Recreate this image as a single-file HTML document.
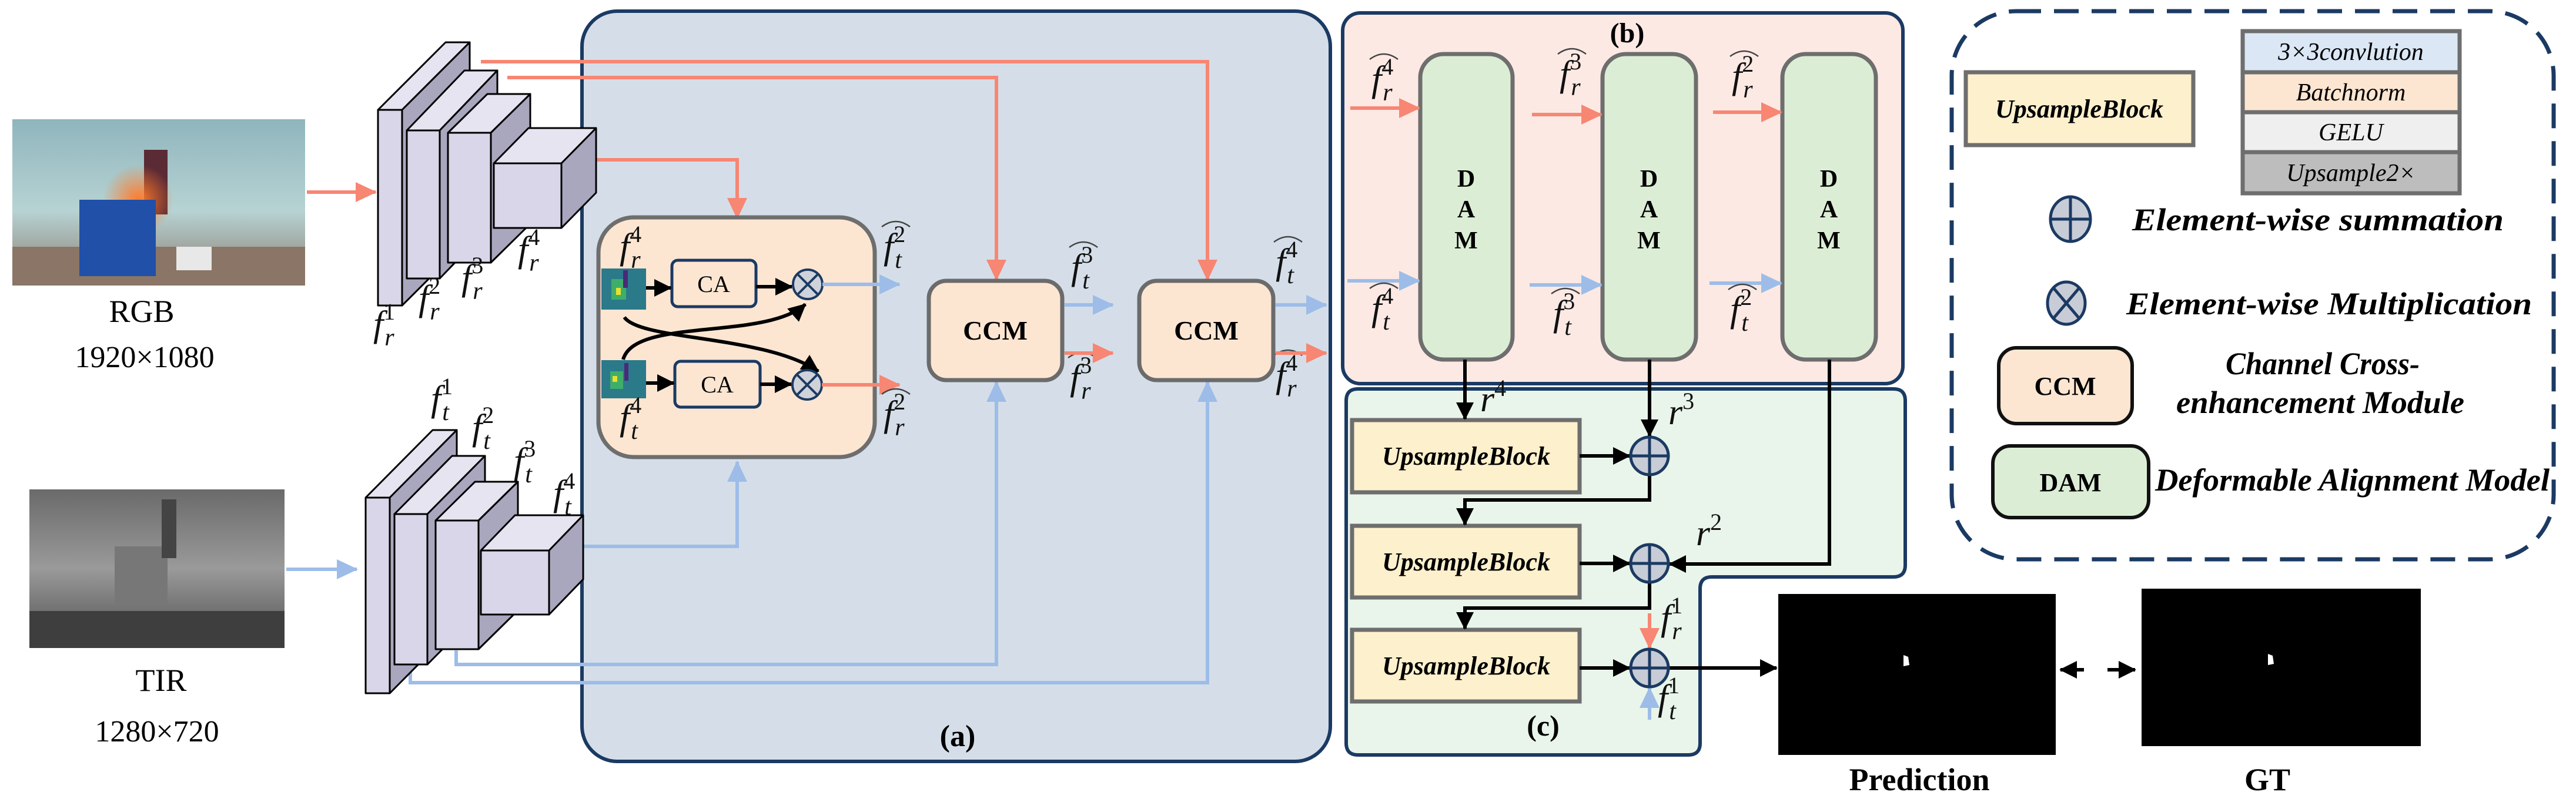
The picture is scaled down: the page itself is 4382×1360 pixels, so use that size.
<!DOCTYPE html>
<html><head><meta charset="utf-8"><style>
html,body{margin:0;padding:0;background:#fff;}
svg{display:block;}
text{font-family:"Liberation Serif",serif;}
.m{font-style:italic;font-size:62px;fill:#111;}
.s{font-size:40px;font-style:normal;}
.si{font-size:42px;font-style:italic;}
.hat{fill:none;stroke:#444;stroke-width:2.5;}
.r{stroke:#f78673;stroke-width:6;fill:none;}
.b{stroke:#9dbde8;stroke-width:6;fill:none;}
.k{stroke:#000;stroke-width:6;fill:none;}
.cube rect,.cube path{stroke:#000;stroke-width:3;stroke-linejoin:round;}
.ub{font-style:italic;font-weight:bold;font-size:44px;}
.dam{font-weight:bold;font-size:42px;}
.leg{font-style:italic;font-weight:bold;font-size:54px;}
</style></head><body>
<svg width="4382" height="1360" viewBox="0 0 4382 1360" xmlns="http://www.w3.org/2000/svg">
<defs>
<marker id="ar" markerUnits="userSpaceOnUse" markerWidth="36" markerHeight="34" refX="34" refY="17" orient="auto"><path d="M0,0 L36,17 L0,34 Z" fill="#f78673"/></marker>
<marker id="ab" markerUnits="userSpaceOnUse" markerWidth="36" markerHeight="34" refX="34" refY="17" orient="auto"><path d="M0,0 L36,17 L0,34 Z" fill="#9dbde8"/></marker>
<marker id="ak" markerUnits="userSpaceOnUse" markerWidth="30" markerHeight="30" refX="28" refY="15" orient="auto"><path d="M0,0 L30,15 L0,30 Z" fill="#000"/></marker>
<linearGradient id="wall" x1="0" y1="0" x2="0" y2="1"><stop offset="0" stop-color="#8fb5bd"/><stop offset="0.55" stop-color="#b7d3d3"/><stop offset="1" stop-color="#8a7a6e"/></linearGradient>
<linearGradient id="wallg" x1="0" y1="0" x2="0" y2="1"><stop offset="0" stop-color="#6a6a6a"/><stop offset="0.5" stop-color="#9a9a9a"/><stop offset="1" stop-color="#4e4e4e"/></linearGradient>
<radialGradient id="glow" cx="0.5" cy="0.5" r="0.5"><stop offset="0" stop-color="#ff7a2a"/><stop offset="1" stop-color="#ff7a2a" stop-opacity="0"/></radialGradient>
</defs>

<rect x="21" y="203" width="498" height="283" fill="url(#wall)"/>
<rect x="21" y="420" width="498" height="66" fill="#8a7566"/>
<rect x="245" y="255" width="40" height="110" fill="#5a2a35"/>
<circle cx="235" cy="340" r="60" fill="url(#glow)"/>
<rect x="135" y="340" width="130" height="130" fill="#2050a8"/>
<rect x="300" y="420" width="60" height="40" fill="#e8e8e8"/>
<rect x="50" y="833" width="434" height="270" fill="url(#wallg)"/>
<rect x="50" y="1040" width="434" height="63" fill="#3e3e3e"/>
<rect x="195" y="930" width="90" height="100" fill="#777"/>
<rect x="275" y="850" width="25" height="100" fill="#444"/>

<text x="241" y="548" font-size="54" text-anchor="middle">RGB</text>
<text x="246" y="625" font-size="52" text-anchor="middle">1920×1080</text>
<text x="274" y="1176" font-size="54" text-anchor="middle">TIR</text>
<text x="267" y="1262" font-size="52" text-anchor="middle">1280×720</text>
<line x1="522" y1="327" x2="639" y2="327" class="r" marker-end="url(#ar)"/>
<line x1="487" y1="969" x2="607" y2="969" class="b" marker-end="url(#ab)"/>

<rect x="990" y="19" width="1273" height="1277" rx="60" fill="#d5dee8" stroke="#1b3a63" stroke-width="6"/>
<text x="1629" y="1270" font-size="52" font-weight="bold" text-anchor="middle">(a)</text>

<path d="M818,105 H2054 V476" class="r" marker-end="url(#ar)"/>
<path d="M863,132 H1695 V476" class="r" marker-end="url(#ar)"/>
<path d="M955,272 H1254 V371" class="r" marker-end="url(#ar)"/>
<path d="M934,930 H1254 V786" class="b" marker-end="url(#ab)"/>
<path d="M776,1107 V1131 H1695 V650" class="b" marker-end="url(#ab)"/>
<path d="M698,1140 V1162 H2054 V650" class="b" marker-end="url(#ab)"/>

<g class="cube">
<path d="M643,187 L758,72 L799,72 L684,187 Z" fill="#e6e4f0"/><path d="M684,187 L799,72 L799,405 L684,520 Z" fill="#a9a7be"/><rect x="643" y="187" width="41" height="333" fill="#d8d6e8"/>
<path d="M692,222 L790,120 L846,120 L748,222 Z" fill="#e6e4f0"/><path d="M748,222 L846,120 L846,372 L748,474 Z" fill="#a9a7be"/><rect x="692" y="222" width="56" height="252" fill="#d8d6e8"/>
<path d="M762,226 L829,160 L902,160 L835,226 Z" fill="#e6e4f0"/><path d="M835,226 L902,160 L902,381 L835,447 Z" fill="#a9a7be"/><rect x="762" y="226" width="73" height="221" fill="#d8d6e8"/>
<path d="M840,278 L899,218 L1014,218 L955,278 Z" fill="#e6e4f0"/><path d="M955,278 L1014,218 L1014,328 L955,388 Z" fill="#a9a7be"/><rect x="840" y="278" width="115" height="110" fill="#d8d6e8"/>
</g>
<g class="cube">
<path d="M622,847 L736,732 L777,732 L663,847 Z" fill="#e6e4f0"/><path d="M663,847 L777,732 L777,1065 L663,1180 Z" fill="#a9a7be"/><rect x="622" y="847" width="41" height="333" fill="#d8d6e8"/>
<path d="M671,875 L769,776 L825,776 L727,875 Z" fill="#e6e4f0"/><path d="M727,875 L825,776 L825,1032 L727,1131 Z" fill="#a9a7be"/><rect x="671" y="875" width="56" height="256" fill="#d8d6e8"/>
<path d="M741,886 L808,820 L881,820 L814,886 Z" fill="#e6e4f0"/><path d="M814,886 L881,820 L881,1039 L814,1105 Z" fill="#a9a7be"/><rect x="741" y="886" width="73" height="219" fill="#d8d6e8"/>
<path d="M818,937 L876,877 L992,877 L934,937 Z" fill="#e6e4f0"/><path d="M934,937 L992,877 L992,986 L934,1046 Z" fill="#a9a7be"/><rect x="818" y="937" width="116" height="109" fill="#d8d6e8"/>
</g>

<text x="635" y="572" class="m">f<tspan class="s" dy="-28">1</tspan><tspan class="si" dx="-18" dy="44">r</tspan></text>
<text x="712" y="528" class="m">f<tspan class="s" dy="-28">2</tspan><tspan class="si" dx="-18" dy="44">r</tspan></text>
<text x="785" y="493" class="m">f<tspan class="s" dy="-28">3</tspan><tspan class="si" dx="-18" dy="44">r</tspan></text>
<text x="881" y="445" class="m">f<tspan class="s" dy="-28">4</tspan><tspan class="si" dx="-18" dy="44">r</tspan></text>
<text x="733" y="699" class="m">f<tspan class="s" dy="-28">1</tspan><tspan class="si" dx="-18" dy="44">t</tspan></text>
<text x="803" y="748" class="m">f<tspan class="s" dy="-28">2</tspan><tspan class="si" dx="-18" dy="44">t</tspan></text>
<text x="874" y="805" class="m">f<tspan class="s" dy="-28">3</tspan><tspan class="si" dx="-18" dy="44">t</tspan></text>
<text x="941" y="860" class="m">f<tspan class="s" dy="-28">4</tspan><tspan class="si" dx="-18" dy="44">t</tspan></text>

<rect x="1018" y="370" width="470" height="408" rx="60" fill="#fce6d2" stroke="#6e6e6e" stroke-width="7"/>
<g>
<rect x="1023" y="457" width="76" height="70" fill="#2a7a8a"/><rect x="1040" y="475" width="25" height="35" fill="#3fae6a"/><rect x="1048" y="490" width="8" height="12" fill="#e8e030"/><rect x="1060" y="460" width="8" height="30" fill="#4a2a78"/>
<rect x="1023" y="613" width="76" height="65" fill="#2a7a8a"/><rect x="1038" y="632" width="22" height="30" fill="#3fae6a"/><rect x="1042" y="640" width="8" height="10" fill="#e8e030"/><rect x="1062" y="618" width="7" height="30" fill="#4a2a78"/>
</g>
<rect x="1143" y="443" width="143" height="79" rx="10" fill="#fce6d2" stroke="#1b3a63" stroke-width="5"/>
<rect x="1148" y="615" width="145" height="78" rx="10" fill="#fce6d2" stroke="#1b3a63" stroke-width="5"/>
<text x="1214" y="497" font-size="40" text-anchor="middle">CA</text>
<text x="1220" y="668" font-size="40" text-anchor="middle">CA</text>
<line x1="1099" y1="490" x2="1141" y2="490" class="k" marker-end="url(#ak)"/>
<line x1="1099" y1="652" x2="1146" y2="652" class="k" marker-end="url(#ak)"/>
<line x1="1286" y1="488" x2="1347" y2="488" class="k" marker-end="url(#ak)"/>
<line x1="1293" y1="654" x2="1346" y2="654" class="k" marker-end="url(#ak)"/>
<path d="M1062,540 C1090,580 1300,570 1392,632" class="k" marker-end="url(#ak)"/>
<path d="M1060,612 C1080,540 1300,580 1370,518" class="k" marker-end="url(#ak)"/>
<g fill="#d0d2da" stroke="#1b3a63" stroke-width="4">
<circle cx="1374" cy="484" r="25"/><path d="M1356,466 L1392,502 M1392,466 L1356,502"/>
<circle cx="1373" cy="655" r="25"/><path d="M1355,637 L1391,673 M1391,637 L1355,673"/>
</g>
<line x1="1399" y1="484" x2="1530" y2="484" class="b" marker-end="url(#ab)"/>
<line x1="1398" y1="655" x2="1530" y2="655" class="r" marker-end="url(#ar)"/>
<text x="1054" y="440" class="m">f<tspan class="s" dy="-28">4</tspan><tspan class="si" dx="-18" dy="44">r</tspan></text>
<text x="1054" y="731" class="m">f<tspan class="s" dy="-28">4</tspan><tspan class="si" dx="-18" dy="44">t</tspan></text>

<g>
<text x="1503" y="440" class="m">f<tspan class="s" dy="-28">2</tspan><tspan class="si" dx="-18" dy="44">t</tspan></text><path class="hat" d="M1500,386 Q1524,368 1548,386"/>
<text x="1503" y="725" class="m">f<tspan class="s" dy="-28">2</tspan><tspan class="si" dx="-18" dy="44">r</tspan></text><path class="hat" d="M1500,671 Q1524,653 1548,671"/>
<text x="1822" y="475" class="m">f<tspan class="s" dy="-28">3</tspan><tspan class="si" dx="-18" dy="44">t</tspan></text><path class="hat" d="M1819,421 Q1843,403 1867,421"/>
<text x="1820" y="663" class="m">f<tspan class="s" dy="-28">3</tspan><tspan class="si" dx="-18" dy="44">r</tspan></text><path class="hat" d="M1817,609 Q1841,591 1865,609"/>
<text x="2170" y="466" class="m">f<tspan class="s" dy="-28">4</tspan><tspan class="si" dx="-18" dy="44">t</tspan></text><path class="hat" d="M2167,412 Q2191,394 2215,412"/>
<text x="2170" y="659" class="m">f<tspan class="s" dy="-28">4</tspan><tspan class="si" dx="-18" dy="44">r</tspan></text><path class="hat" d="M2167,605 Q2191,587 2215,605"/>
</g>

<rect x="1580" y="478" width="227" height="169" rx="30" fill="#fce6d2" stroke="#6b6b6b" stroke-width="7"/>
<rect x="1938" y="478" width="228" height="169" rx="30" fill="#fce6d2" stroke="#6b6b6b" stroke-width="7"/>
<text x="1693" y="578" font-size="46" font-weight="bold" text-anchor="middle">CCM</text>
<text x="2052" y="578" font-size="46" font-weight="bold" text-anchor="middle">CCM</text>
<line x1="1811" y1="519" x2="1893" y2="519" class="b" marker-end="url(#ab)"/>
<line x1="1811" y1="601" x2="1893" y2="601" class="r" marker-end="url(#ar)"/>
<line x1="2170" y1="519" x2="2256" y2="519" class="b" marker-end="url(#ab)"/>
<line x1="2170" y1="601" x2="2256" y2="601" class="r" marker-end="url(#ar)"/>

<rect x="2284" y="22" width="953" height="631" rx="30" fill="#fde9e4" stroke="#1b3a63" stroke-width="6"/>
<text x="2768" y="72" font-size="48" font-weight="bold" text-anchor="middle">(b)</text>
<g fill="#dcedd6" stroke="#6e6e6e" stroke-width="7">
<rect x="2416" y="92" width="157" height="520" rx="40"/>
<rect x="2726" y="92" width="159" height="520" rx="40"/>
<rect x="3032" y="92" width="159" height="520" rx="40"/>
</g>
<g class="dam" text-anchor="middle">
<text x="2494" y="318">D</text><text x="2494" y="370">A</text><text x="2494" y="423">M</text>
<text x="2805" y="318">D</text><text x="2805" y="370">A</text><text x="2805" y="423">M</text>
<text x="3111" y="318">D</text><text x="3111" y="370">A</text><text x="3111" y="423">M</text>
</g>
<line x1="2297" y1="184" x2="2414" y2="184" class="r" marker-end="url(#ar)"/>
<line x1="2292" y1="478" x2="2414" y2="478" class="b" marker-end="url(#ab)"/>
<line x1="2606" y1="195" x2="2724" y2="195" class="r" marker-end="url(#ar)"/>
<line x1="2602" y1="485" x2="2724" y2="485" class="b" marker-end="url(#ab)"/>
<line x1="2914" y1="191" x2="3030" y2="191" class="r" marker-end="url(#ar)"/>
<line x1="2908" y1="482" x2="3030" y2="482" class="b" marker-end="url(#ab)"/>
<g>
<text x="2333" y="155" class="m">f<tspan class="s" dy="-28">4</tspan><tspan class="si" dx="-18" dy="44">r</tspan></text><path class="hat" d="M2330,101 Q2354,83 2378,101"/>
<text x="2333" y="545" class="m">f<tspan class="s" dy="-28">4</tspan><tspan class="si" dx="-18" dy="44">t</tspan></text><path class="hat" d="M2330,491 Q2354,473 2378,491"/>
<text x="2653" y="146" class="m">f<tspan class="s" dy="-28">3</tspan><tspan class="si" dx="-18" dy="44">r</tspan></text><path class="hat" d="M2650,92 Q2674,74 2698,92"/>
<text x="2642" y="554" class="m">f<tspan class="s" dy="-28">3</tspan><tspan class="si" dx="-18" dy="44">t</tspan></text><path class="hat" d="M2639,500 Q2663,482 2687,500"/>
<text x="2946" y="150" class="m">f<tspan class="s" dy="-28">2</tspan><tspan class="si" dx="-18" dy="44">r</tspan></text><path class="hat" d="M2943,96 Q2967,78 2991,96"/>
<text x="2943" y="547" class="m">f<tspan class="s" dy="-28">2</tspan><tspan class="si" dx="-18" dy="44">t</tspan></text><path class="hat" d="M2940,493 Q2964,475 2988,493"/>
</g>

<path d="M2310,662 H3221 Q3241,662 3241,682 V962 Q3241,982 3221,982 H2912 Q2892,982 2892,1002 V1265 Q2892,1285 2872,1285 H2310 Q2290,1285 2290,1265 V682 Q2290,662 2310,662 Z" fill="#e9f5ea" stroke="#1b3a63" stroke-width="6"/>
<text x="2625" y="1252" font-size="50" font-weight="bold" text-anchor="middle">(c)</text>
<g fill="#fdf0cd" stroke="#6e6e6e" stroke-width="7">
<rect x="2300" y="715" width="387" height="123"/>
<rect x="2300" y="895" width="387" height="122"/>
<rect x="2300" y="1072" width="387" height="122"/>
</g>
<g class="ub" text-anchor="middle">
<text x="2494" y="791">UpsampleBlock</text>
<text x="2494" y="971">UpsampleBlock</text>
<text x="2494" y="1148">UpsampleBlock</text>
</g>
<line x1="2492" y1="612" x2="2492" y2="713" class="k" marker-end="url(#ak)"/>
<line x1="2806" y1="612" x2="2806" y2="742" class="k" marker-end="url(#ak)"/>
<path d="M3112,612 V960 H2840" class="k" marker-end="url(#ak)"/>
<line x1="2687" y1="776" x2="2772" y2="776" class="k" marker-end="url(#ak)"/>
<line x1="2687" y1="959" x2="2772" y2="959" class="k" marker-end="url(#ak)"/>
<line x1="2687" y1="1137" x2="2772" y2="1137" class="k" marker-end="url(#ak)"/>
<path d="M2806,808 V851 H2492 V893" class="k" marker-end="url(#ak)"/>
<path d="M2806,991 V1035 H2492 V1070" class="k" marker-end="url(#ak)"/>
<line x1="2806" y1="1044" x2="2806" y2="1103" class="r" marker-end="url(#ar)"/>
<line x1="2806" y1="1225" x2="2806" y2="1171" class="b" marker-end="url(#ab)"/>
<line x1="2838" y1="1137" x2="3022" y2="1137" class="k" marker-end="url(#ak)"/>
<g fill="#c8ccd6" stroke="#1b3a63" stroke-width="5">
<circle cx="2806" cy="776" r="32"/><path d="M2806,744 V808 M2774,776 H2838"/>
<circle cx="2806" cy="959" r="32"/><path d="M2806,927 V991 M2774,959 H2838"/>
<circle cx="2806" cy="1137" r="32"/><path d="M2806,1105 V1169 M2774,1137 H2838"/>
</g>
<text x="2518" y="700" class="m">r<tspan class="s" dy="-26">4</tspan></text>
<text x="2838" y="722" class="m">r<tspan class="s" dy="-26">3</tspan></text>
<text x="2885" y="928" class="m">r<tspan class="s" dy="-26">2</tspan></text>
<text x="2825" y="1072" class="m">f<tspan class="s" dy="-28">1</tspan><tspan class="si" dx="-18" dy="44">r</tspan></text>
<text x="2820" y="1208" class="m">f<tspan class="s" dy="-28">1</tspan><tspan class="si" dx="-18" dy="44">t</tspan></text>

<rect x="3025" y="1011" width="472" height="274" fill="#000"/>
<path d="M3238,1115 L3246,1118 L3248,1132 L3238,1134 Z" fill="#fff"/>
<rect x="3643" y="1002" width="475" height="268" fill="#000"/>
<path d="M3858,1113 L3866,1116 L3868,1130 L3858,1132 Z" fill="#fff"/>
<line x1="3545" y1="1140" x2="3505" y2="1140" class="k" marker-end="url(#ak)"/>
<line x1="3585" y1="1140" x2="3632" y2="1140" class="k" marker-end="url(#ak)"/>
<text x="3265" y="1345" font-size="54" font-weight="bold" text-anchor="middle">Prediction</text>
<text x="3857" y="1345" font-size="54" font-weight="bold" text-anchor="middle">GT</text>

<rect x="3320" y="19" width="1024" height="933" rx="110" fill="#fff" stroke="#1b3a63" stroke-width="7" stroke-dasharray="42,22"/>
<rect x="3344" y="123" width="387" height="124" fill="#fdf0cd" stroke="#6e6e6e" stroke-width="7"/>
<text x="3537" y="200" class="ub" font-size="46" text-anchor="middle">UpsampleBlock</text>
<g stroke="#6e6e6e" stroke-width="7">
<rect x="3815" y="53" width="369" height="70" fill="#dbe7f5"/>
<rect x="3815" y="123" width="369" height="68" fill="#fce6d2"/>
<rect x="3815" y="191" width="369" height="68" fill="#efefef"/>
<rect x="3815" y="259" width="369" height="70" fill="#bdbdbd"/>
</g>
<g font-size="42" font-style="italic" text-anchor="middle">
<text x="3999" y="102">3×3convlution</text>
<text x="3999" y="171">Batchnorm</text>
<text x="3999" y="239">GELU</text>
<text x="3999" y="308">Upsample2×</text>
</g>
<g fill="#c8ccd6" stroke="#1b3a63" stroke-width="5">
<ellipse cx="3522" cy="373" rx="34" ry="38"/><path d="M3522,335 V411 M3488,373 H3556"/>
<ellipse cx="3515" cy="516" rx="32" ry="36"/><path d="M3493,490 L3537,542 M3537,490 L3493,542"/>
</g>
<text x="3627" y="392" class="leg" textLength="632" lengthAdjust="spacingAndGlyphs">Element-wise summation</text>
<text x="3617" y="535" class="leg" textLength="690" lengthAdjust="spacingAndGlyphs">Element-wise Multiplication</text>
<rect x="3400" y="592" width="227" height="129" rx="30" fill="#fce6d2" stroke="#111" stroke-width="6"/>
<text x="3513" y="672" font-size="44" font-weight="bold" text-anchor="middle">CCM</text>
<text x="3951" y="637" class="leg" text-anchor="middle" textLength="330" lengthAdjust="spacingAndGlyphs">Channel Cross-</text>
<text x="3947" y="703" class="leg" text-anchor="middle" textLength="490" lengthAdjust="spacingAndGlyphs">enhancement Module</text>
<rect x="3390" y="759" width="265" height="122" rx="30" fill="#dcedd6" stroke="#111" stroke-width="6"/>
<text x="3522" y="836" font-size="44" font-weight="bold" text-anchor="middle">DAM</text>
<text x="3666" y="835" class="leg" textLength="671" lengthAdjust="spacingAndGlyphs">Deformable Alignment Model</text>
</svg>
</body></html>
